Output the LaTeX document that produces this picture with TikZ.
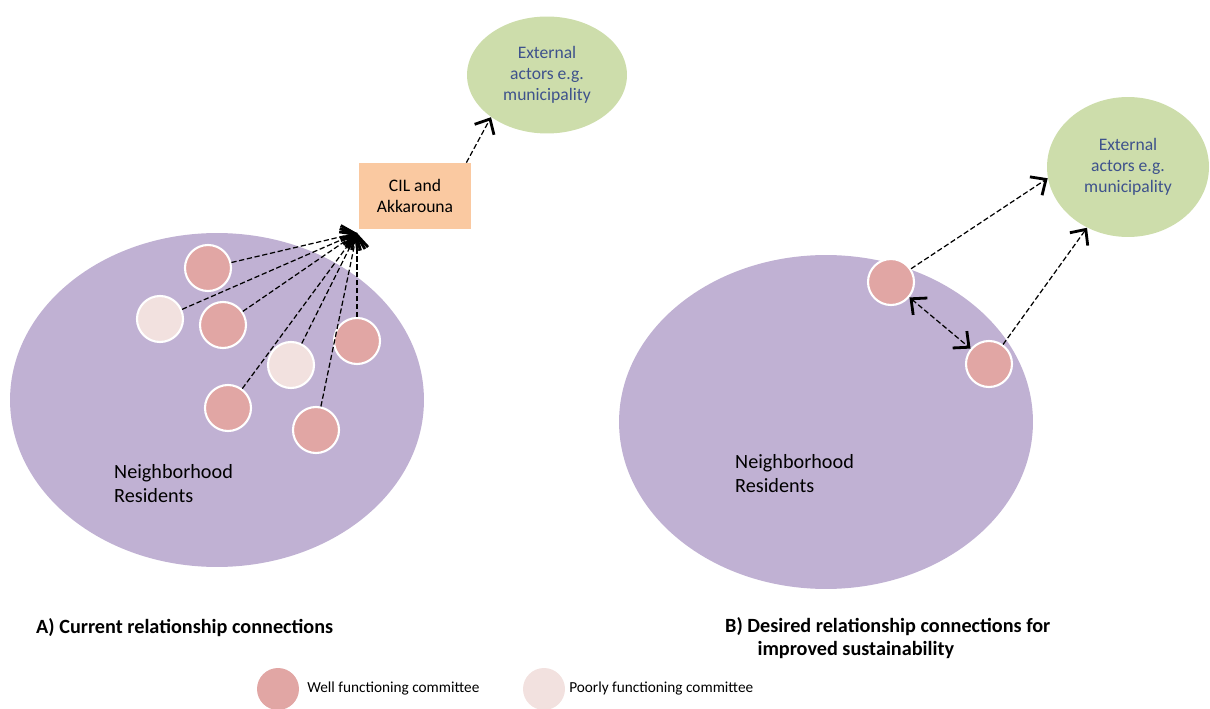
\documentclass[tikz,border=0pt]{standalone}
\usepackage{fontspec}
\setmainfont{Carlito}
\usepackage{xcolor}
\usetikzlibrary{shapes.geometric,arrows.meta}
\definecolor{residentpurple}{RGB}{192, 177, 211}
\definecolor{actorgreen}{RGB}{205, 221, 171}
\definecolor{partnerorange}{RGB}{250, 201, 161}
\definecolor{wellred}{RGB}{225, 166, 164}
\definecolor{poorpink}{RGB}{242, 225, 223}
\definecolor{actortext}{RGB}{62, 82, 140}

\begin{document}
\begin{tikzpicture}[
        x=0.02cm, y=-0.02cm,
        residents/.style={ellipse, fill=residentpurple, minimum width=8.28cm, minimum height=6.68cm},
        actors/.style={ellipse, fill=actorgreen, text=actortext, align=center, font=\fontsize{10}{12}\selectfont},
        partner/.style={rectangle, fill=partnerorange, minimum width=2.26cm, minimum height=1.32cm, align=center, font=\fontsize{10}{12}\selectfont},
        well/.style={circle, fill=wellred, draw=white, line width=1.2pt, minimum size=0.92cm, inner sep=0pt},
        poor/.style={circle, fill=poorpink, draw=white, line width=1.2pt, minimum size=0.92cm, inner sep=0pt},
        flow/.style={-{Straight Barb[length=2.4mm, width=4.4mm, line width=1.6pt]}, line width=0.7pt, dash pattern=on 3pt off 1.5pt},
        twoflow/.style={{Straight Barb[length=2.4mm, width=4.4mm, line width=1.6pt]}-{Straight Barb[length=2.4mm, width=4.4mm, line width=1.6pt]}, line width=0.7pt, dash pattern=on 3pt off 1.5pt},
        label/.style={align=left, anchor=west, font=\fontsize{11.5}{13.6}\selectfont},
        caption/.style={anchor=west, align=left, font=\fontsize{11.5}{13.4}\selectfont\bfseries},
        legend/.style={anchor=west, font=\fontsize{8.7}{11}\selectfont}
    ]
    \useasboundingbox (0,0) rectangle (1210,709);

    % A) current connections
    \node[residents] (resA) at (217, 400) {};
    \node[label] (nbA) at (108, 484) {Neighborhood\\ Residents};
    \node[actors, minimum width=3.2cm, minimum height=2.34cm] (extA) at (547, 75) {External\\ actors e.g.\\ municipality};
    \node[partner] (cil) at (415, 196) {CIL and\\ Akkarouna};
    \coordinate (hub) at (357, 233);

    \node[well] (a1) at (208, 268) {};
    \node[poor] (a2) at (160, 319) {};
    \node[well] (a3) at (223, 325) {};
    \node[well] (a4) at (357, 341) {};
    \node[poor] (a5) at (291, 365) {};
    \node[well] (a6) at (228, 408) {};
    \node[well] (a7) at (316, 430) {};

    \foreach \c in {a1,a2,a3,a4,a5,a6,a7}
        \draw[flow] (\c) -- (hub);
    \draw[flow] (cil.33) -- (extA.217);

    % B) desired connections
    \node[residents] (resB) at (826, 422) {};
    \node[label] (nbB) at (729, 474) {Neighborhood\\ Residents};
    \node[actors, minimum width=3.24cm, minimum height=2.8cm] (extB) at (1128, 167) {External\\ actors e.g.\\ municipality};

    \node[well] (b1) at (891, 282) {};
    \node[well] (b2) at (989, 364) {};

    \draw[flow] (b1) -- (extB.188);
    \draw[flow] (b2) -- (extB.236);
    \draw[twoflow] (b1) -- (b2);

    % captions
    \node[caption] (capA) at (30, 628) {A) Current relationship connections};
    \node[caption] (capB) at (719, 638) {B) Desired relationship connections for\\ \hspace{1.6em}improved sustainability};

    % legend
    \node[well, draw=none, minimum size=0.84cm] (keyW) at (278, 689) {};
    \node[legend] (keyWt) at (keyW.east) [xshift=0.02cm] {Well functioning committee};
    \node[poor, draw=none, minimum size=0.84cm] (keyP) at (544, 689) {};
    \node[legend] (keyPt) at (keyP.east) [xshift=-0.06cm] {Poorly functioning committee};
\end{tikzpicture}
\end{document}
